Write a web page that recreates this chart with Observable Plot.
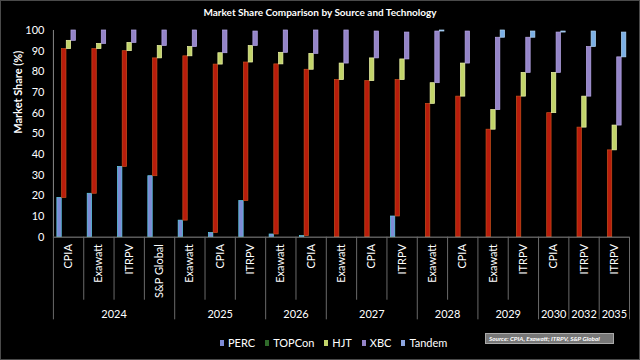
<!DOCTYPE html>
<html>
<head>
<meta charset="utf-8">
<script src="https://cdn.jsdelivr.net/npm/d3@7"></script>
<script src="https://cdn.jsdelivr.net/npm/@observablehq/plot@0.6"></script>
<style>
html,body{margin:0;padding:0;background:#000;}
#wrap{position:relative;width:640px;height:360px;background:#000;box-sizing:border-box;border:1px solid #4a4a4a;overflow:hidden;font-family:Lato,"Open Sans",sans-serif;}
#title{position:absolute;left:0;top:5px;width:100%;text-align:center;color:#fff;font-weight:bold;font-size:10px;line-height:12px;}
#chart{position:absolute;left:-1px;top:23px;}
#legend{position:absolute;left:219px;top:335px;height:14px;display:flex;align-items:center;color:#fff;font-size:11px;line-height:14px;}
#legend .it{display:flex;align-items:center;margin-right:10px;}
#legend .sw{display:inline-block;width:4px;height:6px;margin-right:4px;}
#source{position:absolute;left:484px;top:332px;width:124px;height:9px;background:#777;border:1px solid #aaa;color:#fff;font-size:6.3px;line-height:9px;font-weight:bold;font-style:italic;padding-left:3px;white-space:nowrap;}
</style>
</head>
<body>
<div id="wrap">
  <div id="title">Market Share Comparison by Source and Technology</div>
  <div id="chart"></div>
  <div id="legend"></div>
  <div id="source">Source: CPIA, Exawatt; ITRPV, S&amp;P Global</div>
</div>
<script>
const categories = ["CPIA","Exawatt","ITRPV","S&P Global","Exawatt","CPIA","ITRPV","Exawatt","CPIA","Exawatt","CPIA","ITRPV","Exawatt","CPIA","Exawatt","ITRPV","CPIA","ITRPV","ITRPV"];
const years = ["2024","2024","2024","2024","2025","2025","2025","2026","2026","2027","2027","2027","2028","2028","2029","2029","2030","2032","2035"];
const techs = ["PERC","TOPCon","HJT","XBC","Tandem"];
const perc   = [19, 21, 34, 29.5, 8, 2, 17.5, 1.3, 0.5, 0, 0, 10, 0, 0, 0, 0, 0, 0, 0];
const topcon = [72, 70, 56, 57, 79.5, 81.5, 67, 82.3, 80.5, 76, 75.5, 66, 64.5, 68, 52, 68, 60, 53, 42];
const hjt    = [4, 2.5, 4, 6, 4.5, 5.5, 8, 5.6, 7.7, 8, 11, 10, 10, 16, 9.5, 11.5, 19.5, 15, 12];
const xbc    = [5, 6.5, 6, 7.5, 8, 11, 7, 10.8, 11.3, 16, 13, 13, 25, 15.5, 35, 17, 19.5, 24, 33];
const tandem = [0, 0, 0, 0, 0, 0, 0, 0, 0, 0, 0, 0, 0.5, 0, 3.5, 3, 0.5, 7.5, 12];
const yTicks = [0,10,20,30,40,50,60,70,80,90,100];

const series = [perc, topcon, hjt, xbc, tandem];
const fills   = ["#7d8bd6","#b81c0c","#c2d46a","#9484c8","#7cb0e6"];
const strokes = ["#5fd0e8","#c8501c","#eef4a8","#b8a8e8","#b0d4f4"];
const legendColors = ["#7d8bd6","#2f6a2a","#c2d46a","#9484c8","#8ea6e0"];

// floating stacked segments
const rows = [];
categories.forEach((c, i) => {
  let base = 0;
  series.forEach((s, t) => {
    const v = s[i];
    if (v > 0) rows.push({i, t, y1: base, y2: base + v});
    base += v;
  });
});
const slot = t => 0.13 + t * 0.155;
const barW = 0.145;

// year groups
const groups = [];
years.forEach((y, i) => {
  const g = groups[groups.length - 1];
  if (g && g.year === y) g.end = i + 1; else groups.push({year: y, start: i, end: i + 1});
});
const boundaries = [0, ...groups.map(g => g.end)];
const inner = d3.range(1, categories.length).filter(k => !boundaries.includes(k));

const marks = [];
techs.forEach((name, t) => {
  marks.push(Plot.rectY(rows.filter(d => d.t === t), {
    x1: d => d.i + slot(t), x2: d => d.i + slot(t) + barW,
    y1: "y1", y2: "y2", fill: fills[t], stroke: strokes[t], strokeWidth: 0.7
  }));
});
marks.push(
  Plot.ruleY([0], {stroke: "#8a8a8a"}),
  Plot.ruleX([0], {y1: 0, y2: 100, stroke: "#8a8a8a"}),
  Plot.ruleX(inner, {y1: 0, y2: -30.5, stroke: "#6a6a6a"}),
  Plot.ruleX(boundaries, {y1: 0, y2: -40, stroke: "#6a6a6a"}),
  Plot.text(categories, {x: (d, i) => i + 0.5, y: 0, dy: 7, rotate: -90, textAnchor: "end", lineAnchor: "middle", fill: "#fff", fontSize: 11}),
  Plot.text(groups, {x: d => (d.start + d.end) / 2, y: 0, dy: 77, text: "year", fill: "#fff", fontSize: 11}),
  Plot.text(["Market Share (%)"], {frameAnchor: "left", dx: -35, rotate: -90, fill: "#fff", fontSize: 11, fontWeight: "bold"})
);

const chart = Plot.plot({
  width: 640, height: 310,
  marginLeft: 53, marginRight: 10, marginTop: 6, marginBottom: 97,
  style: {background: "transparent", color: "#fff", fontFamily: "Lato, 'Open Sans', sans-serif", fontSize: "11px"},
  x: {domain: [0, categories.length], axis: null},
  y: {domain: [0, 100], ticks: yTicks.length - 1, tickSize: 0, tickPadding: 9, label: null},
  marks
});
document.getElementById("chart").appendChild(chart);

const legend = document.getElementById("legend");
techs.forEach((name, t) => {
  const it = document.createElement("span");
  it.className = "it";
  const sw = document.createElement("span");
  sw.className = "sw";
  sw.style.background = legendColors[t];
  it.appendChild(sw);
  it.appendChild(document.createTextNode(name));
  legend.appendChild(it);
});
</script>
</body>
</html>
